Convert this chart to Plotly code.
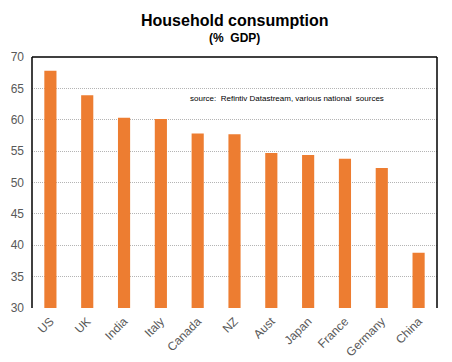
import plotly.graph_objects as go

countries = ["US", "UK", "India", "Italy", "Canada", "NZ", "Aust", "Japan", "France", "Germany", "China"]
consumption = [67.8, 63.9, 60.3, 60.1, 57.8, 57.7, 54.7, 54.4, 53.8, 52.3, 38.8]
y_ticks = [30, 35, 40, 45, 50, 55, 60, 65, 70]

fig = go.Figure(go.Bar(
    x=countries, y=consumption, marker_color="#ED7D31", marker_line_width=0, width=0.33,
    hoverinfo="skip",
))

fig.update_layout(
    width=452, height=362,
    margin=dict(l=32, r=15, t=57, b=54, autoexpand=False),
    paper_bgcolor="white", plot_bgcolor="white",
    font=dict(family="Liberation Sans, Arial, sans-serif", color="#595959", size=12),
    showlegend=False,
    xaxis=dict(tickangle=-45, showgrid=False, showline=False, ticks="", automargin=False,
               ticklabelstandoff=3, tickfont=dict(size=12, color="#595959")),
    yaxis=dict(range=[30, 70], tickvals=y_ticks, showgrid=True, gridcolor="#B4B4B4", griddash="1px,1px",
               gridwidth=1, zeroline=False, showline=False, ticks="", automargin=False,
               ticklabelstandoff=7, tickfont=dict(size=12, color="#595959")),
    shapes=[
        dict(type="line", xref="paper", yref="paper", x0=0, x1=0, y0=0, y1=1, line=dict(color="black", width=1.5)),
        dict(type="line", xref="paper", yref="paper", x0=0, x1=1, y0=1, y1=1, line=dict(color="black", width=1.5)),
        dict(type="line", xref="paper", yref="paper", x0=1, x1=1, y0=0, y1=1, line=dict(color="black", width=1.5)),
    ],
    annotations=[
        dict(text="<b>Household consumption</b>", xref="paper", yref="paper", x=0.5, y=1.147,
             xanchor="center", yanchor="middle", showarrow=False,
             font=dict(size=16, color="black")),
        dict(text="<b>(%  GDP)</b>", xref="paper", yref="paper", x=0.5, y=1.076,
             xanchor="center", yanchor="middle", showarrow=False,
             font=dict(size=12, color="black")),
        dict(text="source:  Refintiv Datastream, various national  sources",
             xref="paper", yref="paper", x=0.385, y=0.835, xanchor="left", yanchor="middle",
             showarrow=False, font=dict(size=8, color="black")),
    ],
)

fig.write_html("out.html", config={"displayModeBar": False},
               post_script="document.body.style.margin='0';document.body.style.padding='0';")
